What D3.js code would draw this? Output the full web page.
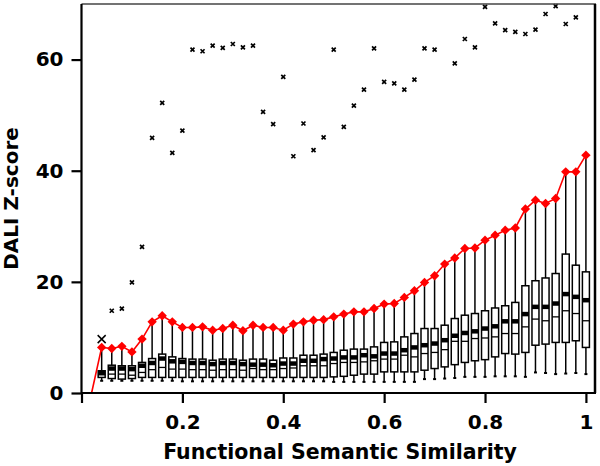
<!DOCTYPE html>
<html>
<head>
<meta charset="utf-8">
<script src="https://cdn.jsdelivr.net/npm/d3@7"></script>
<style>
  body { margin: 0; background: #fff; }
  text { font-family: "DejaVu Sans", sans-serif; font-weight: bold; }
</style>
</head>
<body>
<div id="chart"></div>
<script>
// similarity bins
var xs = [0.04, 0.06, 0.08, 0.10, 0.12, 0.14, 0.16, 0.18, 0.20, 0.22, 0.24, 0.26, 0.28, 0.30, 0.32, 0.34,
    0.36, 0.38, 0.40, 0.42, 0.44, 0.46, 0.48, 0.50, 0.52, 0.54, 0.56, 0.58, 0.60, 0.62, 0.64, 0.66,
    0.68, 0.70, 0.72, 0.74, 0.76, 0.78, 0.80, 0.82, 0.84, 0.86, 0.88, 0.90, 0.92, 0.94, 0.96, 0.98, 1.00];

// box plot stats per bin
var lowWhisker = [2.2, 2.2, 2.2, 2.2, 2.2, 2.2, 2.2, 2.2, 2.1, 2.1, 2.1, 2.1, 2.1, 2.1, 2.1, 2.1,
    2.1, 2.1, 2.1, 2.1, 2.1, 2.1, 2.1, 2.0, 2.0, 2.0, 2.0, 2.0, 2.0, 2.0, 2.0, 2.0,
    2.5, 2.5, 2.6, 2.7, 2.9, 2.9, 2.9, 3.0, 3.0, 3.0, 2.9, 3.7, 3.6, 3.4, 3.5, 3.6, 3.4];
var q1 = [2.8, 2.6, 2.5, 2.6, 2.8, 2.8, 2.8, 2.8, 2.8, 2.8, 2.8, 2.8, 2.8, 2.8, 2.8, 2.8,
    2.8, 2.8, 2.8, 2.8, 2.8, 2.8, 2.8, 2.9, 3.0, 3.2, 3.4, 3.4, 3.8, 3.8, 3.8, 3.8,
    4.1, 4.4, 4.7, 5.1, 5.5, 5.8, 6.0, 6.5, 7.1, 7.0, 7.3, 8.6, 8.8, 9.1, 9.1, 9.4, 8.2];
var median = [3.3, 3.4, 3.4, 3.2, 3.7, 4.2, 4.6, 4.3, 4.3, 4.2, 4.2, 4.1, 4.2, 4.2, 4.1, 4.4,
    4.2, 4.2, 4.4, 4.5, 4.9, 4.9, 4.9, 5.3, 5.5, 5.5, 5.6, 5.8, 6.1, 6.1, 6.8, 6.5,
    7.1, 7.3, 7.8, 9.3, 9.3, 9.8, 9.9, 10.1, 10.7, 10.7, 11.9, 13.3, 13.0, 13.7, 14.8, 14.3, 13.0];
var mean = [3.6, 4.4, 4.4, 4.3, 4.9, 5.4, 6.2, 5.7, 5.6, 5.4, 5.4, 5.2, 5.4, 5.4, 5.2, 5.1,
    5.1, 5.0, 5.3, 5.3, 5.8, 5.8, 6.1, 6.2, 6.4, 6.4, 6.8, 6.6, 7.1, 7.1, 7.7, 8.2,
    8.6, 8.9, 9.5, 10.3, 10.8, 11.1, 11.6, 12.0, 12.9, 12.9, 14.2, 15.5, 15.5, 16.1, 17.8, 17.3, 16.7];
var q3 = [4.0, 5.0, 4.9, 4.9, 5.5, 6.2, 7.0, 6.5, 6.2, 6.1, 6.1, 5.9, 6.1, 6.1, 5.9, 6.1,
    6.1, 5.9, 6.3, 6.3, 6.8, 6.8, 7.0, 7.3, 7.7, 7.9, 7.9, 8.3, 9.1, 9.2, 10.1, 10.7,
    11.6, 11.6, 12.2, 13.4, 14.0, 14.3, 14.8, 15.3, 15.7, 16.3, 19.3, 20.2, 20.7, 21.5, 25.0, 23.0, 21.8];

// upper whisker (red line), starts at 0.02 with 0
var upperX = [0.02].concat(xs);
var upper = [0, 8.2, 8.0, 8.4, 7.4, 9.7, 12.8, 13.9, 12.8, 11.8, 11.8, 11.9, 11.3, 11.6, 12.2, 11.2, 12.2,
    11.8, 11.8, 11.3, 12.4, 12.8, 13.1, 13.2, 13.7, 14.2, 14.6, 14.6, 15.2, 16.0, 16.1, 17.2, 18.4,
    19.9, 21.1, 23.2, 24.3, 26.0, 26.1, 27.5, 28.4, 29.3, 29.7, 33.1, 34.7, 34.1, 35.0, 39.8, 39.8, 42.8];

// maximum per bin (null = off the chart)
var maxVal = [9.7, 14.8, 15.2, 19.9, 26.3, 45.9, 52.2, 43.2, 47.2, 61.8, 61.5, 62.5, 62.1, 62.8, 62.2, 62.5,
    50.6, 48.4, 56.9, 42.6, 48.5, 43.7, 46.0, 61.8, 47.9, 51.7, 54.6, 62.0, 56.0, 55.7, 54.6, 56.4,
    62.0, 61.8, null, 59.3, 63.7, 62.2, 69.5, 66.5, 65.3, 65.0, 64.6, 65.4, 68.2, 69.6, 66.4, 67.6, null];

var xTicks = [0, 0.2, 0.4, 0.6, 0.8, 1];
var xTickLabels = ["", "0.2", "0.4", "0.6", "0.8", "1"];
var yTicks = [0, 20, 40, 60];

var width = 600, height = 466;
var margin = { left: 81.5, right: 4, top: 4, bottom: 73 };

var svg = d3.select("#chart").append("svg")
    .attr("width", width)
    .attr("height", height);

var x = d3.scaleLinear().domain([0, 1.02]).range([margin.left, width - margin.right]);
var y = d3.scaleLinear().domain([0, 70]).range([height - margin.bottom, margin.top]);

var boxW = 7;

var boxes = xs.map(function (v, i) {
    return { x: v, lo: lowWhisker[i], q1: q1[i], med: median[i], mean: mean[i], q3: q3[i], hi: upper[i + 1], max: maxVal[i], i: i };
});

var g = svg.append("g");

// whiskers
g.selectAll(".whisker").data(boxes).enter().append("line")
    .attr("x1", d => x(d.x)).attr("x2", d => x(d.x))
    .attr("y1", d => y(d.lo)).attr("y2", d => y(d.hi))
    .attr("stroke", "#000").attr("stroke-width", 1.5);

// low caps
g.selectAll(".cap").data(boxes).enter().append("line")
    .attr("x1", d => x(d.x) - 1.5).attr("x2", d => x(d.x) + 1.5)
    .attr("y1", d => y(d.lo)).attr("y2", d => y(d.lo))
    .attr("stroke", "#000").attr("stroke-width", 2);

// boxes
g.selectAll(".box").data(boxes).enter().append("rect")
    .attr("x", d => x(d.x) - boxW / 2)
    .attr("width", boxW)
    .attr("y", d => y(d.q3))
    .attr("height", d => y(d.q1) - y(d.q3))
    .attr("fill", "#fff").attr("stroke", "#000").attr("stroke-width", 1.5);

// median
g.selectAll(".median").data(boxes).enter().append("line")
    .attr("x1", d => x(d.x) - boxW / 2).attr("x2", d => x(d.x) + boxW / 2)
    .attr("y1", d => y(d.med)).attr("y2", d => y(d.med))
    .attr("stroke", "#000").attr("stroke-width", 1.3);

// mean (thick bar)
g.selectAll(".mean").data(boxes).enter().append("line")
    .attr("x1", d => x(d.x) - boxW / 2).attr("x2", d => x(d.x) + boxW / 2)
    .attr("y1", d => y(d.mean)).attr("y2", d => y(d.mean))
    .attr("stroke", "#000").attr("stroke-width", 4.5);

// max markers
var maxPts = boxes.filter(d => d.max != null);
g.selectAll(".maxmark").data(maxPts).enter().append("path")
    .attr("transform", d => "translate(" + x(d.x) + "," + y(d.max) + ")")
    .attr("d", d => { var s = d.i === 0 ? 4 : 2; return "M" + (-s) + "," + (-s) + "L" + s + "," + s + "M" + (-s) + "," + s + "L" + s + "," + (-s); })
    .attr("stroke", "#000")
    .attr("stroke-width", d => d.i === 0 ? 1.5 : 1.7);

// red upper line
var upperData = upperX.map((v, i) => ({ x: v, y: upper[i] }));
g.append("path")
    .datum(upperData)
    .attr("fill", "none")
    .attr("stroke", "#ff0000")
    .attr("stroke-width", 1.6)
    .attr("d", d3.line().x(d => x(d.x)).y(d => y(d.y)));

g.selectAll(".diamond").data(upperData.filter(d => d.y > 0)).enter().append("path")
    .attr("transform", d => "translate(" + x(d.x) + "," + y(d.y) + ") rotate(45)")
    .attr("d", d3.symbol().type(d3.symbolSquare).size(44))
    .attr("fill", "#ff0000");

// frame
var plotBottom = y(0), plotTop = y(70), plotLeft = x(0), plotRight = x(1.02);
svg.append("line")
    .attr("x1", plotLeft).attr("x2", plotRight).attr("y1", plotTop).attr("y2", plotTop)
    .attr("stroke", "#444").attr("stroke-width", 1.3);
svg.append("line")
    .attr("x1", plotRight - 1).attr("x2", plotRight - 1).attr("y1", plotTop).attr("y2", plotBottom)
    .attr("stroke", "#000").attr("stroke-width", 2.5);

// axes
var yAxis = svg.append("g")
    .attr("transform", "translate(" + plotLeft + ",0)")
    .call(d3.axisLeft(y).tickValues(yTicks).tickSize(10).tickPadding(8).tickFormat(d3.format("d")));
var xAxis = svg.append("g")
    .attr("transform", "translate(0," + plotBottom + ")")
    .call(d3.axisBottom(x).tickValues(xTicks).tickSize(10).tickPadding(12).tickFormat((d, i) => xTickLabels[i]));

[xAxis, yAxis].forEach(function (ax) {
    ax.select(".domain").attr("stroke", "#000").attr("stroke-width", 2.2);
    ax.selectAll(".tick line").attr("stroke", "#000").attr("stroke-width", 2.2);
    ax.selectAll("text").attr("fill", "#000")
        .style("font-family", "'DejaVu Sans', sans-serif")
        .style("font-weight", "bold")
        .style("font-size", "20px");
});
xAxis.select(".domain").attr("d", "M" + plotLeft + ",0H" + plotRight);
yAxis.select(".domain").attr("d", "M0," + plotBottom + "V" + plotTop);

// labels
svg.append("text")
    .attr("x", 340)
    .attr("y", 459)
    .attr("text-anchor", "middle")
    .attr("font-size", "20.5px")
    .text("Functional Semantic Similarity");

svg.append("text")
    .attr("transform", "translate(18," + ((plotTop + plotBottom) / 2) + ") rotate(-90)")
    .attr("text-anchor", "middle")
    .attr("font-size", "20px")
    .text("DALI Z-score");
</script>
</body>
</html>
